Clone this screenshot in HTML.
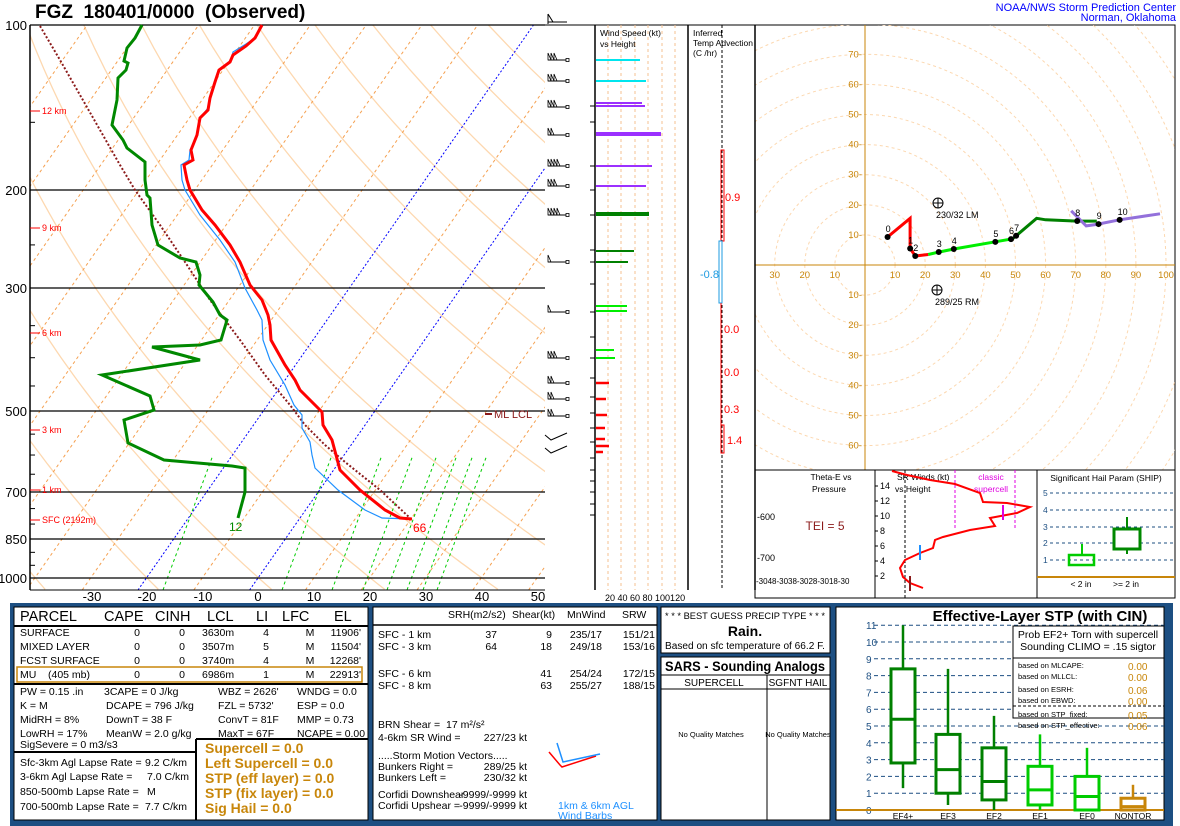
<!DOCTYPE html>
<html><head><meta charset="utf-8">
<style>
html,body{margin:0;padding:0;background:#fff;}
body{width:1180px;height:826px;overflow:hidden;position:relative;font-family:"Liberation Sans",sans-serif;}
svg{position:absolute;left:0;top:0;}
text{font-family:"Liberation Sans",sans-serif;}
</style></head><body>
<svg id="s" width="1180" height="826" xmlns="http://www.w3.org/2000/svg">
<defs>
<clipPath id="skc"><rect x="30" y="25" width="515" height="565"/></clipPath>
<clipPath id="hc"><rect x="755" y="25" width="420" height="445"/></clipPath>
</defs>
<text x="35" y="18" font-size="19" font-weight="bold">FGZ&#160;&#160;180401/0000&#160;&#160;(Observed)</text>
<text x="1176" y="11" font-size="11" fill="#0000ff" text-anchor="end">NOAA/NWS Storm Prediction Center</text>
<text x="1176" y="21" font-size="11" fill="#0000ff" text-anchor="end">Norman, Oklahoma</text>

<g id="skbg" clip-path="url(#skc)"></g>
<g id="sk"></g>
<g id="hodo"></g>
<g id="misc"></g>

<rect x="10" y="603" width="1163" height="223" fill="#1d4f82"/>
<rect x="14" y="607" width="354" height="213" fill="#fff" stroke="#000"/>
<rect x="373" y="607" width="284" height="213" fill="#fff" stroke="#000"/>
<rect x="661" y="607" width="169" height="46" fill="#fff" stroke="#000"/>
<rect x="661" y="657" width="169" height="163" fill="#fff" stroke="#000"/>
<rect x="836" y="607" width="328" height="213" fill="#fff" stroke="#000"/>

<g font-size="10.5">
<g font-size="14.5">
<text x="20" y="621">PARCEL</text><text x="104" y="621">CAPE</text><text x="155" y="621">CINH</text><text x="207" y="621">LCL</text><text x="256" y="621">LI</text><text x="282" y="621">LFC</text><text x="334" y="621">EL</text>
</g>
<line x1="14" y1="626" x2="368" y2="626" stroke="#000" stroke-width="2"/>
<text x="20" y="636">SURFACE</text><text x="20" y="650">MIXED LAYER</text><text x="20" y="664">FCST SURFACE</text><text x="20" y="678">MU&#160;&#160;&#160;&#160;(405 mb)</text>
<g text-anchor="middle"><text x="137" y="636">0</text><text x="137" y="650">0</text><text x="137" y="664">0</text><text x="137" y="678">0</text>
<text x="182" y="636">0</text><text x="182" y="650">0</text><text x="182" y="664">0</text><text x="182" y="678">0</text>
<text x="266" y="636">4</text><text x="266" y="650">5</text><text x="266" y="664">4</text><text x="266" y="678">1</text>
<text x="310" y="636">M</text><text x="310" y="650">M</text><text x="310" y="664">M</text><text x="310" y="678">M</text></g>
<text x="202" y="636">3630m</text><text x="202" y="650">3507m</text><text x="202" y="664">3740m</text><text x="202" y="678">6986m</text>
<g text-anchor="end"><text x="361" y="636">11906'</text><text x="361" y="650">11504'</text><text x="361" y="664">12268'</text><text x="361" y="678">22913'</text></g>
<rect x="17" y="667" width="345" height="15" fill="none" stroke="#c8860a" stroke-width="1.5"/>
<line x1="14" y1="684" x2="368" y2="684" stroke="#000" stroke-width="2"/>
<text x="20" y="695">PW = 0.15 .in</text><text x="104" y="695">3CAPE = 0 J/kg</text><text x="218" y="695">WBZ = 2626'</text><text x="297" y="695">WNDG = 0.0</text>
<text x="20" y="709">K = M</text><text x="106" y="709">DCAPE = 796 J/kg</text><text x="218" y="709">FZL = 5732'</text><text x="297" y="709">ESP = 0.0</text>
<text x="20" y="723">MidRH = 8%</text><text x="106" y="723">DownT = 38 F</text><text x="218" y="723">ConvT = 81F</text><text x="297" y="723">MMP = 0.73</text>
<text x="20" y="737">LowRH = 17%</text><text x="106" y="737">MeanW = 2.0 g/kg</text><text x="218" y="737">MaxT = 67F</text><text x="297" y="737" textLength="68" lengthAdjust="spacingAndGlyphs">NCAPE = 0.00</text>
<text x="20" y="748">SigSevere = 0 m3/s3</text>
<line x1="196" y1="739" x2="368" y2="739" stroke="#000" stroke-width="2"/>
<line x1="196" y1="739" x2="196" y2="820" stroke="#000" stroke-width="2"/>
<line x1="14" y1="752" x2="196" y2="752" stroke="#000" stroke-width="2"/>
<text x="20" y="766">Sfc-3km Agl Lapse Rate =</text><text x="145" y="766">9.2 C/km</text>
<text x="20" y="780">3-6km Agl Lapse Rate =</text><text x="147" y="780">7.0 C/km</text>
<text x="20" y="795">850-500mb Lapse Rate =</text><text x="147" y="795">M</text>
<text x="20" y="810">700-500mb Lapse Rate =</text><text x="145" y="810">7.7 C/km</text>
<g font-size="14" font-weight="bold" fill="#c8860a">
<text x="205" y="753">Supercell = 0.0</text><text x="205" y="768">Left Supercell = 0.0</text><text x="205" y="783">STP (eff layer) = 0.0</text><text x="205" y="798">STP (fix layer) = 0.0</text><text x="205" y="813">Sig Hail = 0.0</text>
</g>

<text x="448" y="618">SRH(m2/s2)</text><text x="512" y="618">Shear(kt)</text><text x="567" y="618">MnWind</text><text x="622" y="618">SRW</text>
<line x1="373" y1="625" x2="657" y2="625" stroke="#000" stroke-width="1.5"/>
<text x="378" y="638">SFC - 1 km</text><text x="378" y="650">SFC - 3 km</text><text x="378" y="677">SFC - 6 km</text><text x="378" y="689">SFC - 8 km</text>
<g text-anchor="end"><text x="497" y="638">37</text><text x="497" y="650">64</text><text x="552" y="638">9</text><text x="552" y="650">18</text><text x="552" y="677">41</text><text x="552" y="689">63</text>
<text x="602" y="638">235/17</text><text x="602" y="650">249/18</text><text x="602" y="677">254/24</text><text x="602" y="689">255/27</text>
<text x="655" y="638">151/21</text><text x="655" y="650">153/16</text><text x="655" y="677">172/15</text><text x="655" y="689">188/15</text></g>
<text x="378" y="728">BRN Shear =&#160;&#160;17 m²/s²</text><text x="378" y="741">4-6km SR Wind =</text><text x="527" y="741" text-anchor="end">227/23 kt</text>
<text x="378" y="759">.....Storm Motion Vectors.....</text>
<text x="378" y="770">Bunkers Right =</text><text x="527" y="770" text-anchor="end">289/25 kt</text>
<text x="378" y="781">Bunkers Left =</text><text x="527" y="781" text-anchor="end">230/32 kt</text>
<text x="378" y="798">Corfidi Downshear</text><text x="527" y="798" text-anchor="end">-9999/-9999 kt</text>
<text x="378" y="809">Corfidi Upshear =</text><text x="527" y="809" text-anchor="end">-9999/-9999 kt</text>
<text x="558" y="809" fill="#1e90ff">1km &amp; 6km AGL</text><text x="558" y="819" fill="#1e90ff">Wind Barbs</text>
<polyline points="549,752 560,765 562,767 596,756" fill="none" stroke="#f00" stroke-width="1.5"/>
<polyline points="557,743 563,762 600,754" fill="none" stroke="#1e90ff" stroke-width="1.5"/>

<text x="745" y="619" font-size="9.5" text-anchor="middle" textLength="160" lengthAdjust="spacingAndGlyphs">* * * BEST GUESS PRECIP TYPE * * *</text>
<text x="745" y="636" font-size="14" font-weight="bold" text-anchor="middle">Rain.</text>
<text x="745" y="649" font-size="10" text-anchor="middle" textLength="160" lengthAdjust="spacingAndGlyphs">Based on sfc temperature of 66.2 F.</text>
<text x="745" y="671" font-size="14" font-weight="bold" text-anchor="middle" textLength="160" lengthAdjust="spacingAndGlyphs">SARS - Sounding Analogs</text>
<line x1="661" y1="675" x2="830" y2="675" stroke="#000"/>
<line x1="661" y1="689" x2="830" y2="689" stroke="#000"/>
<line x1="767" y1="675" x2="767" y2="820" stroke="#000"/>
<text x="714" y="686" font-size="10" text-anchor="middle">SUPERCELL</text><text x="798" y="686" font-size="10" text-anchor="middle">SGFNT HAIL</text>
<text x="711" y="737" font-size="7.5" text-anchor="middle">No Quality Matches</text><text x="798" y="737" font-size="7.5" text-anchor="middle">No Quality Matches</text>
</g>
<g id="stp"></g>
</svg>
<script>
var NS="http://www.w3.org/2000/svg";
function el(p,t,a,txt){var e=document.createElementNS(NS,t);for(var k in a)e.setAttribute(k,a[k]);if(txt!==undefined)e.textContent=txt;document.getElementById(p).appendChild(e);return e;}
function yp(p){return 25+240*Math.log(p/100);}
function xt(T,y){return 258+5.58*T+0.7*(578-y);}
var bg="skbg";
for(var th=-40;th<=240;th+=20){var pts=[];for(var p=1050;p>=100;p-=10){var Tk=(th+273.15)*Math.pow(p/1000,0.2857)-273.15;var y=yp(p);pts.push(xt(Tk,y).toFixed(1)+","+y.toFixed(1));}
el(bg,"polyline",{points:pts.join(" "),fill:"none",stroke:"#fdd8b0","stroke-width":1.3});}
for(var T=-160;T<=60;T+=10){var y1=590,y2=25;var c=(T==-20||T==0)?"#0000ff":"#f5a050";
el(bg,"line",{x1:xt(T,y1),y1:y1,x2:xt(T,y2),y2:y2,stroke:c,"stroke-width":1,"stroke-dasharray":c=="#0000ff"?"2,2":"3,3"});}
var mb=[163,282,332,363,387,407,423,437];
mb.forEach(function(b){el(bg,"line",{x1:b,y1:590,x2:b+50,y2:455,stroke:"#00cc00","stroke-dasharray":"3,3"});});
var sk="sk";
el(sk,"line",{x1:30,y1:25,x2:30,y2:590,stroke:"#000","stroke-width":1.5});
el(sk,"line",{x1:30,y1:590,x2:545,y2:590,stroke:"#000"});
[[100,25],[200,190],[300,288],[500,411],[700,492],[850,539],[1000,578]].forEach(function(a){var y=a[1];
el(sk,"line",{x1:30,y1:y,x2:545,y2:y,stroke:"#000","stroke-width":1.2});el(sk,"text",{x:27,y:y+5,"font-size":13,"text-anchor":"end"},String(a[0]));});
[150,250,350,400,450,550,600,650,750,800,900,950].forEach(function(p){var y=yp(p);el(sk,"line",{x1:30,y1:y,x2:35,y2:y,stroke:"#000"});});
[[-30,92],[-20,147],[-10,203],[0,258],[10,314],[20,370],[30,426],[40,482],[50,538]].forEach(function(a){el(sk,"text",{x:a[1],y:601,"font-size":13,"text-anchor":"middle"},String(a[0]));});
[["12 km",111],["9 km",228],["6 km",333],["3 km",430],["1 km",490],["SFC (2192m)",520]].forEach(function(a){el(sk,"line",{x1:30,y1:a[1],x2:40,y2:a[1],stroke:"#f00"});el(sk,"text",{x:42,y:a[1]+3,"font-size":9,fill:"#f00"},a[0]);});
el(sk,"polyline",{points:"40,26 60,60 80,95 100,130 120,165 135,190 160,225 185,262 210,300 240,340 265,375 290,405 305,425 325,445 345,462 380,490 410,518",fill:"none",stroke:"#8b1a1a","stroke-width":2,"stroke-dasharray":"2,2"});
el(sk,"polyline",{points:"262,25 255,38 246,44 233,52 231,60 219,70 215,82 210,98 208,108 200,118 197,135 190,150 189,160 181,165 182,180 185,190 200,215 220,240 235,262 245,288 257,310 262,320 263,340 270,360 285,385 294,405 302,415 302,428 310,442 312,455 315,468 338,490 365,510 382,518 410,519",fill:"none",stroke:"#1e90ff","stroke-width":1.2});
el(sk,"polyline",{points:"262,25 255,38 246,46 233,55 230,62 219,70 215,82 210,98 208,110 200,118 197,135 191,150 193,160 184,165 187,180 190,190 202,210 215,225 230,245 240,262 250,285 262,300 268,315 270,325 271,340 285,365 295,380 300,390 322,412 323,425 332,440 336,455 340,470 360,490 385,510 400,518 412,519",fill:"none",stroke:"#f00","stroke-width":3});
el(sk,"polyline",{points:"142,25 135,38 127,48 124,61 128,63 126,70 118,78 117,100 115,110 112,125 123,140 127,148 145,162 145,180 147,195 150,198 152,225 158,245 180,258 196,262 200,275 199,285 213,302 220,315 227,320 221,340 200,345 152,347 200,360 102,375 150,396 154,410 124,420 128,443 164,460 232,466 245,468 245,492 238,518",fill:"none",stroke:"#008800","stroke-width":3});
el(sk,"text",{x:229,y:531,"font-size":12,fill:"#008800"},"12");
el(sk,"text",{x:413,y:532,"font-size":12,fill:"#f00"},"66");
el(sk,"line",{x1:485,y1:414,x2:492,y2:414,stroke:"#8b1a1a","stroke-width":2});
el(sk,"text",{x:494,y:418,"font-size":11,fill:"#8b1a1a","font-family":"Liberation Serif"},"ML  LCL");
var wb=[[20,0],[60,3],[81,3],[107,3],[135,2],[166,4],[186,3],[215,4],[262,1],[312,1],[358,3],[383,2],[399,2],[416,2],[440,0],[453,0]];
wb.forEach(function(b,i){var y=b[0];if(i==0){el(sk,"line",{x1:548,y1:14,x2:548,y2:24,stroke:"#000"});el(sk,"line",{x1:548,y1:14,x2:553,y2:22,stroke:"#000"});el(sk,"line",{x1:548,y1:22,x2:567,y2:22,stroke:"#000"});return;}
if(y<430){el(sk,"line",{x1:548,y1:y,x2:566,y2:y,stroke:"#000"});el(sk,"rect",{x:566,y:y-1.5,width:3,height:3,fill:"none",stroke:"#000","stroke-width":0.8});
for(var k=0;k<b[1];k++){el(sk,"polygon",{points:(548+k*3)+","+(y-7)+" "+(548+k*3)+","+y+" "+(551+k*3)+","+y,fill:"none",stroke:"#000","stroke-width":0.8});}}
else{el(sk,"polyline",{points:"545,"+(y-5)+" 551,"+y+" 567,"+(y-7),fill:"none",stroke:"#000"});}});
var m="misc";
el(m,"line",{x1:595,y1:25,x2:595,y2:590,stroke:"#000","stroke-width":1.5});
el(m,"line",{x1:688,y1:25,x2:688,y2:590,stroke:"#000","stroke-width":1.5});
el(m,"line",{x1:755,y1:25,x2:755,y2:590,stroke:"#000","stroke-width":1.5});
el(m,"line",{x1:545,y1:25,x2:755,y2:25,stroke:"#000","stroke-width":1});
[608,621,635,648,662,675].forEach(function(x){el(m,"line",{x1:x,y1:25,x2:x,y2:590,stroke:"#f5c090","stroke-dasharray":"3,3"});});
el(m,"text",{x:605,y:601,"font-size":9},"20 40 60 80 100120");
el(m,"text",{x:600,y:36,"font-size":8.5},"Wind Speed (kt)");el(m,"text",{x:600,y:47,"font-size":8.5},"vs Height");
el(m,"text",{x:693,y:36,"font-size":8.5},"Inferred");el(m,"text",{x:693,y:46,"font-size":8.5},"Temp Advection");el(m,"text",{x:693,y:56,"font-size":8.5},"(C /hr)");
[106,122,166,190,215,250,262,284,312,337,358,378,397,413,428,442,458,470,481,492,504,515].forEach(function(y){el(m,"line",{x1:590,y1:y,x2:595,y2:y,stroke:"#000"});});
var bars=[[60,640,"#00e5ee",2],[81,646,"#00e5ee",2],[103,642,"#9b30ff",2],[106,645,"#9b30ff",2],[133,661,"#9b30ff",2],[135,661,"#9b30ff",2],[166,652,"#9b30ff",2],[186,646,"#9b30ff",2],[214,649,"#008000",4],[251,634,"#008000",2],[262,628,"#008000",2],[306,627,"#00ee00",2],[311,627,"#00ee00",2],[350,614,"#00ee00",2],[358,615,"#00ee00",2],[383,609,"#f00",2.5],[399,606,"#f00",2.5],[415,607,"#f00",2.5],[428,605,"#f00",2.5],[439,605,"#f00",2.5],[446,609,"#f00",2.5],[452,603,"#f00",2.5]];
bars.forEach(function(b){el(m,"line",{x1:596,y1:b[0],x2:b[1],y2:b[0],stroke:b[2],"stroke-width":b[3]});});
el(m,"line",{x1:722,y1:25,x2:722,y2:590,stroke:"#000","stroke-dasharray":"3,2"});
el(m,"rect",{x:721,y:150,width:3,height:91,fill:"none",stroke:"#f00"});
el(m,"rect",{x:719,y:241,width:3,height:62,fill:"none",stroke:"#1e9be0"});
el(m,"line",{x1:721,y1:303,x2:721,y2:453,stroke:"#f00"});
el(m,"rect",{x:721,y:425,width:3,height:28,fill:"none",stroke:"#f00"});
el(m,"text",{x:725,y:201,"font-size":11,fill:"#f00"},"0.9");
el(m,"text",{x:700,y:278,"font-size":11,fill:"#1e9be0"},"-0.8");
[["0.0",333],["0.0",376],["0.3",413],["1.4",444]].forEach(function(a,i){el(m,"text",{x:i==3?727:724,y:a[1],"font-size":11,fill:"#f00"},a[0]);});
var h="hodo",ox=865,oy=265,s=3.01;
el(h,"rect",{x:755,y:25,width:420,height:445,fill:"none",stroke:"#000"});
var hg=el(h,"g",{"clip-path":"url(#hc)"});hg.id="hg";
for(var r=10;r<=140;r+=10){el("hg","circle",{cx:ox,cy:oy,r:r*s,fill:"none",stroke:"#fcd8b0","stroke-dasharray":"3,3"});}
el("hg","line",{x1:755,y1:oy,x2:1175,y2:oy,stroke:"#c8860a"});el("hg","line",{x1:ox,y1:25,x2:ox,y2:470,stroke:"#c8860a"});
[-30,-20,-10,10,20,30,40,50,60,70,80,90,100].forEach(function(v){el("hg","text",{x:ox+v*s,y:oy+13,"font-size":9.5,fill:"#c8860a","text-anchor":"middle"},String(Math.abs(v)));});
[70,60,50,40,30,20,10,-10,-20,-30,-40,-50,-60].forEach(function(v){el("hg","text",{x:ox-3,y:oy-v*s+3,"font-size":9.5,fill:"#c8860a","text-anchor":"end"},String(Math.abs(v))+"-");});
function P(u,v){return (ox+u*s).toFixed(1)+","+(oy-v*s).toFixed(1);}
function seg(arr,c){el("hg","polyline",{points:arr.map(function(a){return P(a[0],a[1]);}).join(" "),fill:"none",stroke:c,"stroke-width":3});}
seg([[7.5,9.3],[15,15.5],[15,5.5],[16.7,3],[21,3.5]],"#f00");
seg([[21,3.5],[24.5,4.3],[29.5,5.3],[43.3,7.7],[49,8.7]],"#00ee00");
seg([[49,8.7],[50.2,9.7],[57,15.5],[60,15],[70.5,14.6],[77,14.6]],"#008000");
seg([[68.5,18],[73.5,13],[77,13.5],[84.6,15],[98,17]],"#9370db");
[[0,7.5,9.3],[1,15,5.5],[2,16.7,3],[3,24.5,4.3],[4,29.5,5.3],[5,43.3,7.7],[6,48.5,8.6],[7,50.2,9.7],[8,70.5,14.6],[9,77.6,13.6],[10,84.6,15]].forEach(function(a){el("hg","circle",{cx:ox+a[1]*s,cy:oy-a[2]*s,r:3,fill:"#000"});el("hg","text",{x:ox+a[1]*s-2,y:oy-a[2]*s-5,"font-size":9},String(a[0]));});
[[938,203,"230/32 LM"],[937,290,"289/25 RM"]].forEach(function(a){el("hg","circle",{cx:a[0],cy:a[1],r:5,fill:"none",stroke:"#000"});el("hg","line",{x1:a[0]-5,y1:a[1],x2:a[0]+5,y2:a[1],stroke:"#000"});el("hg","line",{x1:a[0],y1:a[1]-5,x2:a[0],y2:a[1]+5,stroke:"#000"});el("hg","text",{x:a[0]-2,y:a[1]+15,"font-size":9},a[2]);});
el(h,"rect",{x:755,y:470,width:420,height:128,fill:"#fff",stroke:"#000"});
el(h,"line",{x1:875,y1:470,x2:875,y2:598,stroke:"#000"});el(h,"line",{x1:1037,y1:470,x2:1037,y2:598,stroke:"#000"});
el(h,"text",{x:831,y:480,"font-size":8.5,"text-anchor":"middle"},"Theta-E vs");el(h,"text",{x:829,y:492,"font-size":8.5,"text-anchor":"middle"},"Pressure");
el(h,"text",{x:757,y:520,"font-size":9},"-600");el(h,"text",{x:757,y:561,"font-size":9},"-700");
el(h,"text",{x:825,y:530,"font-size":12,fill:"#8b1a1a","text-anchor":"middle"},"TEI = 5");
el(h,"text",{x:756,y:584,"font-size":8},"-3048-3038-3028-3018-30");
[[14,486],[12,501],[10,516],[8,531],[6,546],[4,561],[2,576]].forEach(function(a){el(h,"text",{x:880,y:a[1]+3,"font-size":9},String(a[0]));el(h,"line",{x1:875,y1:a[1],x2:878,y2:a[1],stroke:"#000"});});
el(h,"line",{x1:905,y1:470,x2:905,y2:598,stroke:"#000","stroke-dasharray":"3,2"});
el(h,"line",{x1:955,y1:470,x2:955,y2:530,stroke:"#e000e0","stroke-dasharray":"3,2"});
el(h,"line",{x1:1015,y1:470,x2:1015,y2:530,stroke:"#e000e0","stroke-dasharray":"3,2"});
el(h,"text",{x:897,y:480,"font-size":8.5},"SR Winds (kt)");el(h,"text",{x:895,y:492,"font-size":8.5},"vs Height");
el(h,"text",{x:991,y:480,"font-size":8.5,fill:"#e000e0","text-anchor":"middle"},"classic");el(h,"text",{x:991,y:492,"font-size":8.5,fill:"#e000e0","text-anchor":"middle"},"supercell");
el(h,"polyline",{points:"892,471 907,475 930,480 955,484 980,493 983,502 1007,503 1030,507 1017,513 990,518 995,526 970,530 943,537 935,540 933,548 920,553 905,560 900,568 903,577 910,583 923,588",fill:"none",stroke:"#f00","stroke-width":2});
el(h,"line",{x1:1003,y1:505,x2:1003,y2:520,stroke:"#e000e0","stroke-width":2});
el(h,"line",{x1:920,y1:545,x2:920,y2:560,stroke:"#1e90ff","stroke-width":2});
el(h,"line",{x1:910,y1:576,x2:910,y2:591,stroke:"#8b1a1a","stroke-width":2});
el(h,"text",{x:1106,y:481,"font-size":8.5,"text-anchor":"middle"},"Significant Hail Param (SHIP)");
[[5,493],[4,510],[3,527],[2,543],[1,560]].forEach(function(a){el(h,"text",{x:1043,y:a[1]+3,"font-size":8.5,fill:"#1d4f82"},String(a[0]));el(h,"line",{x1:1050,y1:a[1],x2:1175,y2:a[1],stroke:"#1d4f82","stroke-dasharray":"3,3"});});
el(h,"line",{x1:1037,y1:577,x2:1175,y2:577,stroke:"#c8860a","stroke-width":2});
el(h,"line",{x1:1082,y1:544,x2:1082,y2:555,stroke:"#00cc00","stroke-width":2});
el(h,"rect",{x:1069,y:555,width:25,height:10,fill:"none",stroke:"#00cc00","stroke-width":2.5});
el(h,"line",{x1:1127,y1:517,x2:1127,y2:554,stroke:"#008800","stroke-width":2});
el(h,"rect",{x:1114,y:529,width:26,height:20,fill:"#fff",stroke:"#008800","stroke-width":3});
el(h,"text",{x:1081,y:587,"font-size":8.5,"text-anchor":"middle"},"< 2 in");el(h,"text",{x:1126,y:587,"font-size":8.5,"text-anchor":"middle"},">= 2 in");
var st="stp";function sy(v){return 810-v*16.8;}
el(st,"text",{x:1040,y:621,"font-size":15,"font-weight":"bold","text-anchor":"middle"},"Effective-Layer STP (with CIN)");
for(var v=1;v<=11;v++){el(st,"line",{x1:874,y1:sy(v),x2:1164,y2:sy(v),stroke:"#1d4f82","stroke-dasharray":"4,3"});el(st,"text",{x:866,y:sy(v)+4,"font-size":10,fill:"#1d4f82"},String(v));}
el(st,"text",{x:866,y:sy(0)+4,"font-size":10,fill:"#1d4f82"},"0");
el(st,"rect",{x:1013,y:626,width:151,height:32,fill:"#fff",stroke:"#000"});
el(st,"rect",{x:1013,y:658,width:151,height:60,fill:"#fff",stroke:"#000"});
el(st,"text",{x:1088,y:638,"font-size":10.5,"text-anchor":"middle"},"Prob EF2+ Torn with supercell");
el(st,"text",{x:1088,y:650,"font-size":10.5,"text-anchor":"middle"},"Sounding CLIMO = .15 sigtor");
[["based on MLCAPE:","0.00"],["based on MLLCL:","0.00"],["based on ESRH:","0.06"],["based on EBWD:","0.00"],["based on STP_fixed:","0.05"],["based on STP_effective:","0.06"]].forEach(function(a,i){
var y=[668,679,692,703,717,728][i];el(st,"text",{x:1018,y:y,"font-size":7.5},a[0]);el(st,"text",{x:1128,y:y+2,"font-size":10,fill:"#c8860a"},a[1]);});
el(st,"line",{x1:1013,y1:706,x2:1164,y2:706,stroke:"#000","stroke-dasharray":"3,2"});
el(st,"line",{x1:836,y1:810,x2:1164,y2:810,stroke:"#c8860a","stroke-width":2});
[["EF4+",903,1.3,2.8,5.4,8.4,11,"#008000"],["EF3",948,0.3,1,2.4,4.5,8.4,"#008000"],["EF2",994,0,0.6,1.7,3.7,5.6,"#008000"],["EF1",1040,0,0.3,1.2,2.6,4.5,"#00cc00"],["EF0",1087,0,0,0.8,2,3.7,"#00cc00"],["NONTOR",1133,0,0,0.2,0.7,1.5,"#c8860a"]].forEach(function(b){
el(st,"line",{x1:b[1],y1:sy(b[2]),x2:b[1],y2:sy(b[6]),stroke:b[7],"stroke-width":2.5});
el(st,"rect",{x:b[1]-12,y:sy(b[5]),width:24,height:sy(b[3])-sy(b[5]),fill:"#fff",stroke:b[7],"stroke-width":3});
el(st,"line",{x1:b[1]-12,y1:sy(b[4]),x2:b[1]+12,y2:sy(b[4]),stroke:b[7],"stroke-width":3});
el(st,"text",{x:b[1],y:819,"font-size":8.5,"text-anchor":"middle"},b[0]);});
</script>
</body></html>
